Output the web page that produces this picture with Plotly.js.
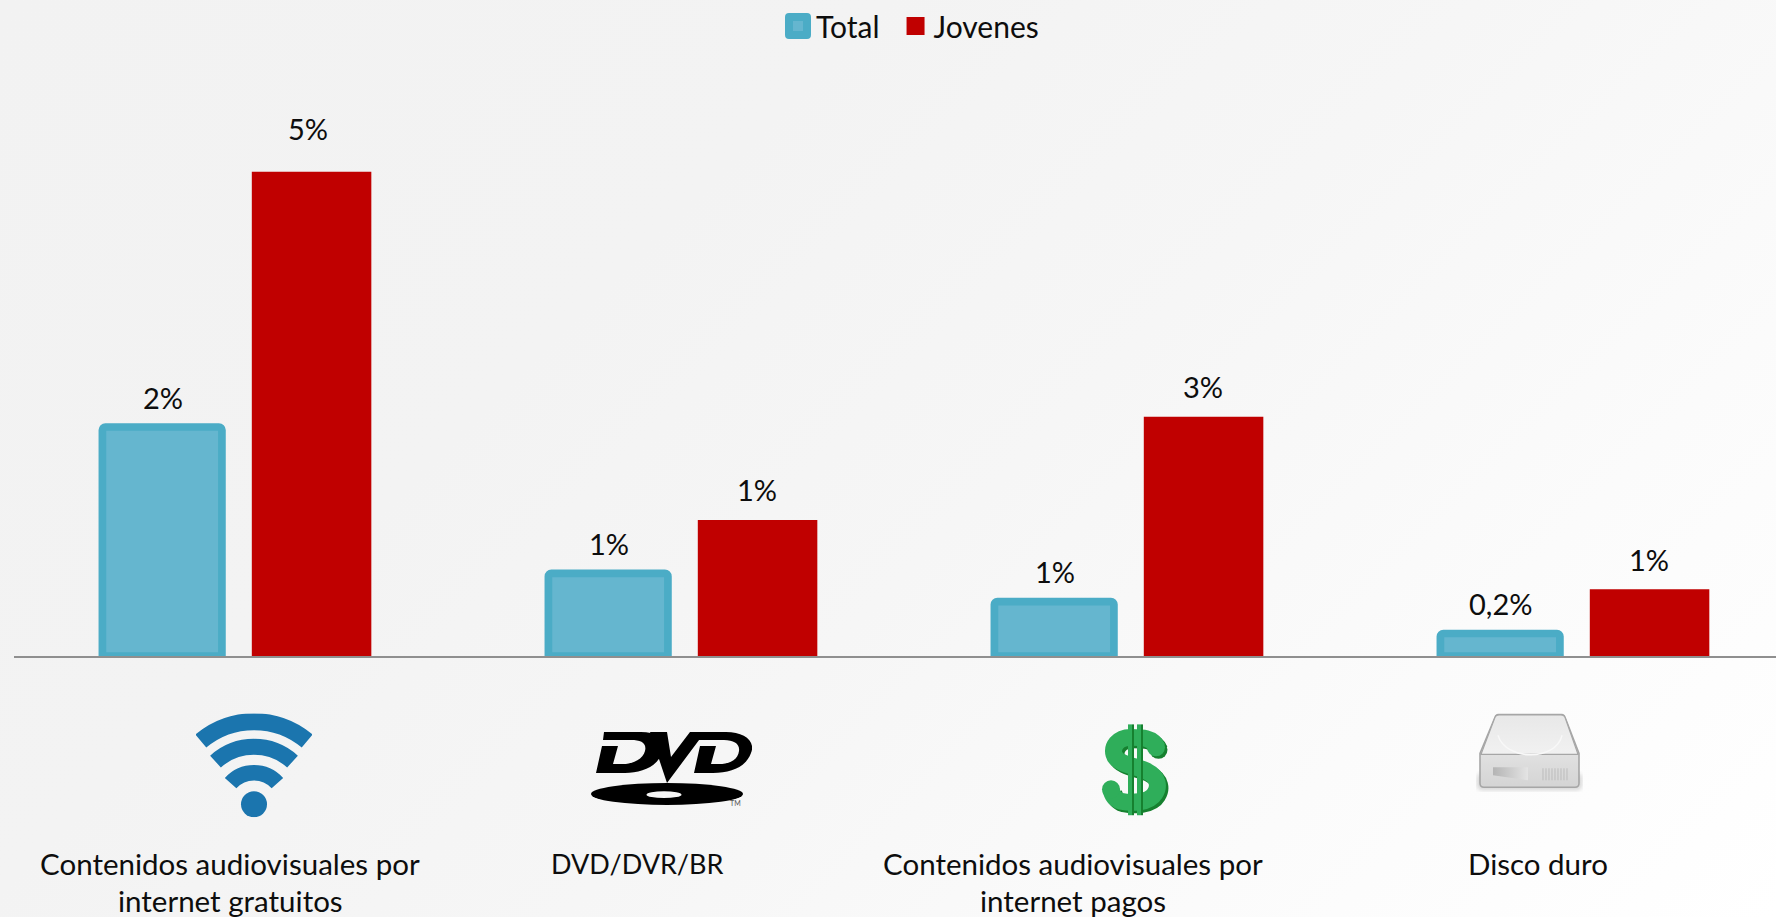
<!DOCTYPE html>
<html><head><meta charset="utf-8">
<script src="https://cdn.plot.ly/plotly-3.0.1.min.js"></script>
<style>
html,body{margin:0;padding:0;width:1776px;height:917px;overflow:hidden;
background:linear-gradient(135deg,#f2f2f2 0%,#f3f3f3 33%,#f6f6f6 55%,#fbfbfb 78%,#ffffff 100%);}
#chart{position:absolute;left:0;top:0;width:1776px;height:917px;}
</style></head><body><div id="chart"></div>
<script>
// ---- data ----
const categories = ["Contenidos audiovisuales por internet gratuitos","DVD/DVR/BR","Contenidos audiovisuales por internet pagos","Disco duro"];
const categoryLine1 = ["Contenidos audiovisuales por","DVD/DVR/BR","Contenidos audiovisuales por","Disco duro"];
const categoryLine2 = ["internet gratuitos","","internet pagos",""];
const totalValues = [2.44,0.88,0.58,0.24];
const jovenesValues = [5.16,1.45,2.55,0.71];
const totalLabels = ["2%","1%","1%","0,2%"];
const jovenesLabels = ["5%","1%","3%","1%"];

// ---- layout geometry (pixels) ----
const W=1776,H=917,L=14,T=59.5,PW=1762,PH=597;
const px=x=>(x-L)/PW, py=y=>1-(y-T)/PH;
const font="Lato, 'Open Sans', sans-serif";
const FS=29.5, FSL=29, TXT="#0d0d0d";
const catFontSize=[FS,27,FS,FS];
const slot=1/3/2; // half distance between the two bars of a group
const catLabelShift=[-6.5,-45.5,-56,-37];

// ---- icons ----
const wifi=`<svg xmlns="http://www.w3.org/2000/svg" viewBox="0 0 116 104" width="116" height="104"><g fill="none" stroke="#1b75ae" stroke-linejoin="round"><path stroke-width="17" d="M4.8,27.7A82.7,82.7 0 0 1 111.2,27.7"/><path stroke-width="16" d="M19.5,48.3A57.5,57.5 0 0 1 96.5,48.3"/><path stroke-width="15.5" d="M34.6,69.9A31.5,31.5 0 0 1 81.4,69.9"/></g><ellipse cx="58" cy="91" rx="13" ry="13" fill="#1b75ae"/></svg>`;
const dvd=`<svg xmlns="http://www.w3.org/2000/svg" viewBox="0 0 161 84" width="161" height="84"><g fill="#000"><path d="M13,1H50C68,1 76,10 71,22C66,36 50,42 34,42H5L11,15H27L22,33H32C42,33 52,28 54,20C56,12 50,9 40,9H12Z"/><path d="M59,1H76L80,26L99,1H114L76,52Z"/><path d="M99,1H135C153,1 165,10 160,22C155,36 140,42 122,42H103L109,15H125L120,33H128C140,33 147,28 148,20C149,13 143,9 133,9H106Z"/><ellipse cx="76" cy="63" rx="76" ry="11"/></g><ellipse cx="73" cy="63.7" rx="17.5" ry="3.4" fill="#f6f6f6"/></svg>`;
const sPath="M56,24C52,14 40,14 30,14C16,14 11,24 13,31C16,42 38,43 46,48C58,54 58,64 54,70C48,80 30,80 20,78C14,76 11,72 10,66";
const dollar=`<svg xmlns="http://www.w3.org/2000/svg" viewBox="0 0 68 93" width="68" height="93"><g transform="translate(2.5,2.5)" fill="none" stroke="#16802f" stroke-width="17"><path d="${sPath}"/></g><circle cx="57.5" cy="26.5" r="9" fill="#16802f"/><path d="${sPath}" fill="none" stroke="#2fae5a" stroke-width="17"/><circle cx="55" cy="24" r="9" fill="#2fae5a"/><circle cx="10" cy="66" r="9" fill="#2fae5a"/><g fill="#2fae5a"><rect x="27" y="1" width="4" height="91"/><rect x="36" y="1" width="4" height="91"/></g><g fill="#16802f"><rect x="31" y="1" width="2" height="91"/><rect x="40" y="1" width="2" height="91"/></g></svg>`;
const disk=`<svg xmlns="http://www.w3.org/2000/svg" viewBox="0 0 107 80" width="107" height="80"><defs><linearGradient id="t" x1="0" y1="0" x2="0" y2="1"><stop offset="0" stop-color="#e8e8e8"/><stop offset="1" stop-color="#f1f1f1"/></linearGradient><linearGradient id="f" x1="0" y1="0" x2="0" y2="1"><stop offset="0" stop-color="#f0f0f0"/><stop offset="1" stop-color="#d4d4d4"/></linearGradient><linearGradient id="s" x1="0" y1="0" x2="1" y2="0"><stop offset="0" stop-color="#b4b4b4"/><stop offset="1" stop-color="#e4e4e4"/></linearGradient><filter id="b"><feGaussianBlur stdDeviation="2"/></filter></defs><rect x="1" y="60" width="105" height="17" rx="5" fill="#bdbdbd" opacity=".6" filter="url(#b)"/><path d="M23,1H85Q88,1 89,4L103,40V70Q103,74 99,74H8Q4,74 4,70V40L19,4Q20,1 23,1Z" fill="url(#f)" stroke="#a6a6a6" stroke-width="1.6"/><path d="M23,1.5H85Q88,1.5 89,4L102,41H5L19,4Q20,1.5 23,1.5Z" fill="url(#t)" stroke="#a6a6a6" stroke-width="1.2"/><path d="M22,22C30,48 80,48 86,22" fill="none" stroke="#f8f8f8" stroke-width="1.5"/><path d="M17,54H52V67L17,62Z" fill="url(#s)"/><g stroke="#bcbcbc" stroke-width="1"><path d="M67,55V67M70,55V67M73,55V67M76,55V67M79,55V67M82,55V67M85,55V67M88,55V67M91,55V67"/></g></svg>`;
const iconBoxes=[[wifi,196,714,116,104],[dvd,591,731.7,161,84],[dollar,1101,724,68,93],[disk,1476,714,107,80]];
const images=iconBoxes.map(([svg,x,y,w,h])=>({
  source:'data:image/svg+xml;utf8,'+encodeURIComponent(svg),
  xref:'paper',yref:'paper',x:px(x),y:py(y),sizex:w/PW,sizey:h/PH,
  xanchor:'left',yanchor:'top',sizing:'stretch',layer:'above'}));

// ---- annotations ----
const annotations=[];
const dataLabel=(i,off,v,t,lift,dx)=>annotations.push({x:i+off,y:v,xref:'x',yref:'y',text:t,showarrow:false,
  yanchor:'middle',xanchor:'center',yshift:lift,xshift:dx,font:{family:font,size:FSL,color:TXT}});
categories.forEach((c,i)=>{
  dataLabel(i,-slot,totalValues[i],totalLabels[i],30,0);
  dataLabel(i,slot,jovenesValues[i],jovenesLabels[i],i===0?43.5:30,i===0?-3:0);
  annotations.push({x:i,xshift:catLabelShift[i],xref:'x',yref:'paper',y:py(864.5),text:categoryLine1[i],showarrow:false,
    yanchor:'middle',xanchor:'center',font:{family:font,size:catFontSize[i],color:TXT}});
  if(categoryLine2[i]) annotations.push({x:i,xshift:catLabelShift[i],xref:'x',yref:'paper',y:py(901.5),text:categoryLine2[i],showarrow:false,
    yanchor:'middle',xanchor:'center',font:{family:font,size:FS,color:TXT}});
});
annotations.push({xref:'paper',yref:'paper',x:px(735.5),y:py(809.5),text:'TM',showarrow:false,font:{family:font,size:7,color:'#555'}});

const traces=[
 {type:'bar',name:'Total',x:categories,y:totalValues,cliponaxis:false,
  marker:{color:'#65b6cf',line:{color:'#4bacc6',width:7.7},cornerradius:3}},
 {type:'bar',name:'Jovenes',x:categories,y:jovenesValues,cliponaxis:false,
  marker:{color:'#c00000',line:{width:0}}}
];
const layout={
 width:W,height:H,autosize:false,
 paper_bgcolor:'rgba(0,0,0,0)',plot_bgcolor:'rgba(0,0,0,0)',
 margin:{l:L,r:0,t:T,b:H-T-PH,pad:0},
 barmode:'group',bargap:0.33,bargroupgap:0.2,
 font:{family:font,size:FS,color:TXT},
 xaxis:{type:'category',range:[-0.4997,3.451],showticklabels:false,ticks:'',showgrid:false,zeroline:false,
   showline:true,linecolor:'#8f8f8f',linewidth:1.5,fixedrange:true},
 yaxis:{range:[0,PH/94],visible:false,showgrid:false,zeroline:false,fixedrange:true},
 showlegend:true,
 legend:{orientation:'h',x:px(776),xanchor:'left',y:py(-1),yanchor:'top',bgcolor:'rgba(0,0,0,0)',
   font:{family:font,size:30,color:TXT},traceorder:'normal'},
 images,annotations
};
Plotly.newPlot('chart',traces,layout,{displayModeBar:false,staticPlot:true}).then(gd=>{
  // enlarge the legend swatches to the reference's size and open the gap between entries
  const paths=gd.querySelectorAll('.legend .legendbar path, .legend .legendpoints path');
  paths.forEach((p,i)=>{
    p.setAttribute('d','M11,9H-7V-9H11Z');
    if(i===0){p.style.strokeWidth='8px';p.style.strokeLinejoin='round';}
  });
  const box=gd.querySelector('.legend .scrollbox');
  if(box) box.removeAttribute('clip-path');
  const items=gd.querySelectorAll('.legend .traces');
  if(items[1]){
    const m=/translate\(([-\d.]+)[, ]+([-\d.]+)\)/.exec(items[1].getAttribute('transform'));
    if(m) items[1].setAttribute('transform',`translate(${+m[1]+9},${m[2]})`);
  }
});
</script></body></html>
